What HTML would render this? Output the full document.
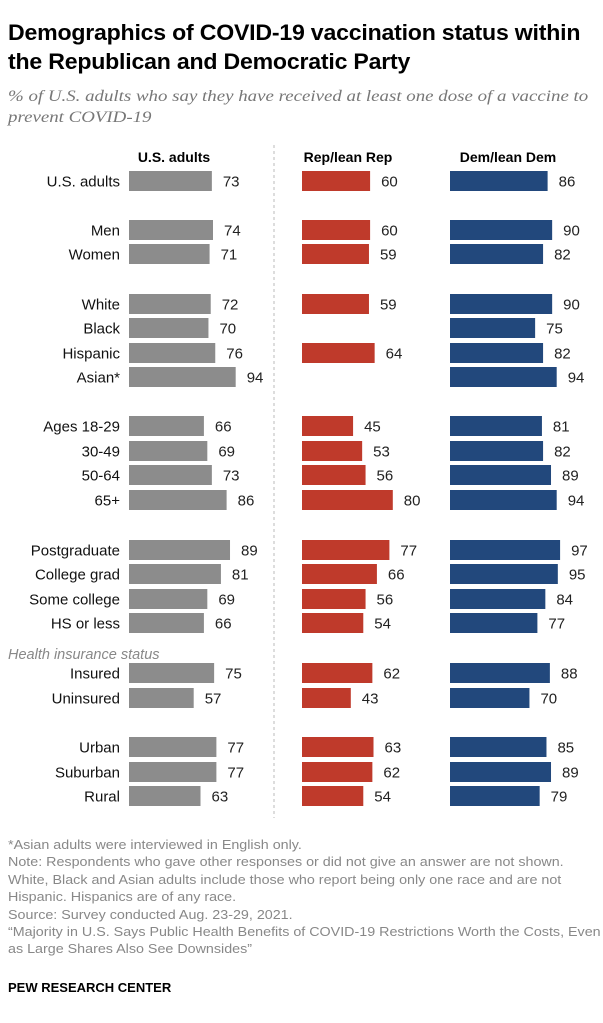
<!DOCTYPE html>
<html><head><meta charset="utf-8"><style>
body{margin:0;background:#fff;font-family:"Liberation Sans",sans-serif;}
#wrap{position:relative;width:603px;height:1023px;overflow:hidden;}
.t{position:absolute;white-space:nowrap;transform-origin:0 0;}
</style></head><body>
<div id="wrap">
<div class="t" style="left:8px;top:18px;font-size:22px;font-weight:bold;line-height:29px;color:#000;letter-spacing:-0.2px;transform:scaleX(1.05)">Demographics of COVID-19 vaccination status within<br>the Republican and Democratic Party</div>
<div class="t" style="left:8px;top:86px;font-family:'Liberation Serif',serif;font-style:italic;font-size:16px;line-height:21px;color:#777;transform:scaleX(1.18)">% of U.S. adults who say they have received at least one dose of a vaccine to<br>prevent COVID-19</div>
<svg id="chart" width="603" height="1023" style="position:absolute;left:0;top:0;font-family:'Liberation Sans',sans-serif"></svg>
<div class="t" style="left:8px;top:836px;font-size:13px;line-height:17.4px;color:#888;transform:scaleX(1.1)">*Asian adults were interviewed in English only.<br>Note: Respondents who gave other responses or did not give an answer are not shown.<br>White, Black and Asian adults include those who report being only one race and are not<br>Hispanic. Hispanics are of any race.<br>Source: Survey conducted Aug. 23-29, 2021.<br>“Majority in U.S. Says Public Health Benefits of COVID-19 Restrictions Worth the Costs, Even<br>as Large Shares Also See Downsides”</div>
<div class="t" style="left:8px;top:980px;font-size:13px;font-weight:bold;color:#000">PEW RESEARCH CENTER</div>
</div>
<script>
const categories=["U.S. adults","Men","Women","White","Black","Hispanic","Asian*","Ages 18-29","30-49","50-64","65+","Postgraduate","College grad","Some college","HS or less","Insured","Uninsured","Urban","Suburban","Rural"];
const rowCenters=[181,230,254,304,328,353,377,426,451,475,500,550,574,599,623,673,698,747,772,796];
const usValues=[73,74,71,72,70,76,94,66,69,73,86,89,81,69,66,75,57,77,77,63];
const repValues=[60,60,59,59,null,64,null,45,53,56,80,77,66,56,54,62,43,63,62,54];
const demValues=[86,90,82,90,75,82,94,81,82,89,94,97,95,84,77,88,70,85,89,79];
const seriesNames=["U.S. adults","Rep/lean Rep","Dem/lean Dem"];
const NS="http://www.w3.org/2000/svg";
const svg=document.getElementById('chart');
const scale=1.135;
const cols=[{x0:129,c:"#8c8c8c",v:usValues,hx:174},{x0:302,c:"#bf3a2b",v:repValues,hx:348},{x0:450,c:"#22487c",v:demValues,hx:508}];
function mk(tag,attrs,txt){const e=document.createElementNS(NS,tag);for(const k in attrs)e.setAttribute(k,attrs[k]);if(txt!=null)e.textContent=txt;svg.appendChild(e);return e;}
const div=mk('line',{x1:274,y1:145,x2:274,y2:818,stroke:'#bbb','stroke-dasharray':'3,3'});


cols.forEach((col,ci)=>{
  const h=mk('text',{x:col.hx,y:162,'text-anchor':'middle','font-size':14,'font-weight':'bold',fill:'#000'},seriesNames[ci]);
  
  
  col.v.forEach((v,i)=>{
    if(v==null)return;
    const y=rowCenters[i];
    const r=mk('rect',{x:col.x0,y:y-10,width:v*scale,height:20,fill:col.c});
    
    
    const t=mk('text',{x:col.x0+v*scale+11,y:y+5.5,'font-size':15,fill:'#222'},v);
    
    
  });
});
categories.forEach((c,i)=>{
  const t=mk('text',{x:120,y:rowCenters[i]+5.5,'text-anchor':'end','font-size':15,fill:'#111'},c);
  
  
});
const g=mk('text',{x:8,y:659,'font-size':14.5,'font-style':'italic',fill:'#888'},'Health insurance status');


</script>
</body></html>
